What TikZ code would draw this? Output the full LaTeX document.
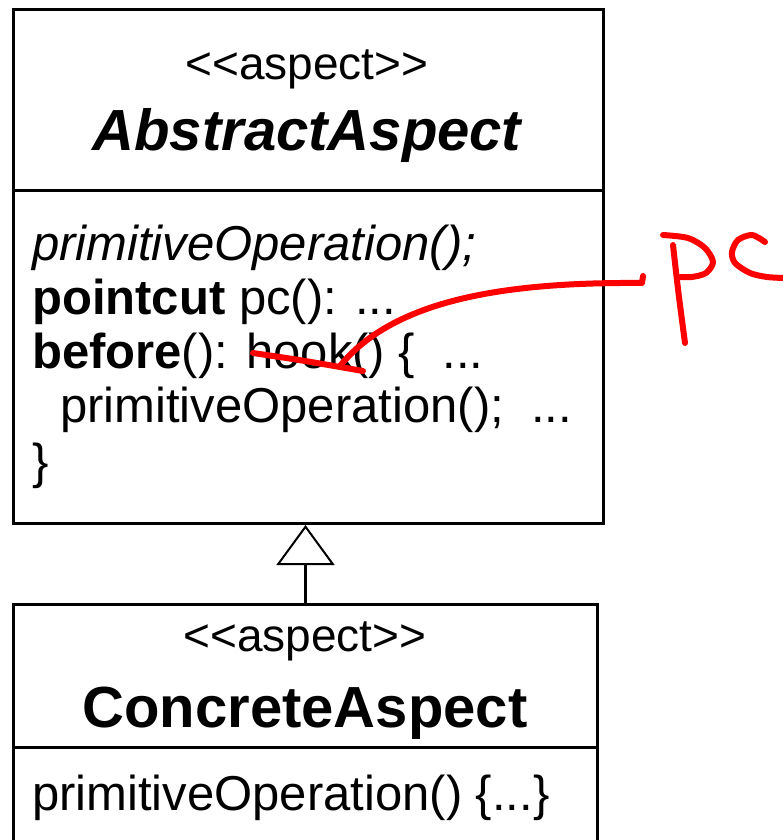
\documentclass[tikz,border=0pt]{standalone}
\usepackage{fontspec}
\setmainfont{Liberation Sans}
\usetikzlibrary{arrows.meta, positioning}

\begin{document}
\begin{tikzpicture}[
    x=1pt, y=-1pt,
    classbox/.style={rectangle, draw, line width=3pt, anchor=north west, inner sep=0pt},
    divider/.style={line width=3pt},
    stereo/.style={anchor=base, inner sep=0pt, font=\fontsize{46}{50}\selectfont},
    title/.style={anchor=base, inner sep=0pt, font=\fontsize{58}{62}\selectfont\bfseries},
    member/.style={anchor=base west, inner sep=0pt, font=\fontsize{49}{54}\selectfont},
    inherit/.style={line width=3pt, -{Triangle[open, width=58pt, length=40pt, line width=2pt]}},
    hand/.style={red, line width=6pt, line cap=round, line join=round}
]
\useasboundingbox (0,0) rectangle (782,840);

% AbstractAspect class
\node[classbox, minimum width=590pt, minimum height=514pt] (abstract) at (12,8) {};
\draw[divider] (12,190) -- (602,190);
\node[stereo] (abstractstereo) at (307,80) {{<}{<}aspect{>}{>}};
\node[title, font=\fontsize{58}{62}\selectfont\bfseries\itshape] (abstractname) at (307,150) {AbstractAspect};

\node[member] (primop) at (32,260) {\itshape primitiveOperation();};
\node[member] (pointcut) at (32,314) {\textbf{pointcut} pc(): ...};
\node[member] (before) at (32,368) {\textbf{before}(): hook() \{\ \ ...};
\node[member] (callop) at (60,422) {primitiveOperation();\ \ ...};
\node[member] (closing) at (32,478) {\}};

% ConcreteAspect class
\node[classbox, minimum width=584pt, minimum height=280pt] (concrete) at (12,603) {};
\draw[divider] (12,747) -- (596,747);
\node[stereo] (concretestereo) at (305,651) {{<}{<}aspect{>}{>}};
\node[title] (concretename) at (305,727) {ConcreteAspect};
\node[member] (concreteop) at (32,810) {primitiveOperation() \{...\}};

% Generalization
\draw[inherit] (concrete.north) -- (concrete.north |- abstract.south);

% Handwritten annotation
\coordinate (pcmark) at (642,283);
\coordinate (hooktip) at (340,366);
\draw[hand] (643,276) -- (pcmark) .. controls (510,282) and (395,298) .. (hooktip);
\draw[hand] (253,353) .. controls (300,360) .. (363,371);
\draw[hand] (673,245) .. controls (678,290) .. (685,343);
\draw[hand] plot[smooth] coordinates {(663,235) (688,238) (705,248) (713,262) (706,273) (692,277) (680,277)};
\draw[hand] plot[smooth] coordinates {(765,242) (752,235) (738,240) (732,252) (735,263) (750,273) (767,277) (785,278)};

\end{tikzpicture}
\end{document}
